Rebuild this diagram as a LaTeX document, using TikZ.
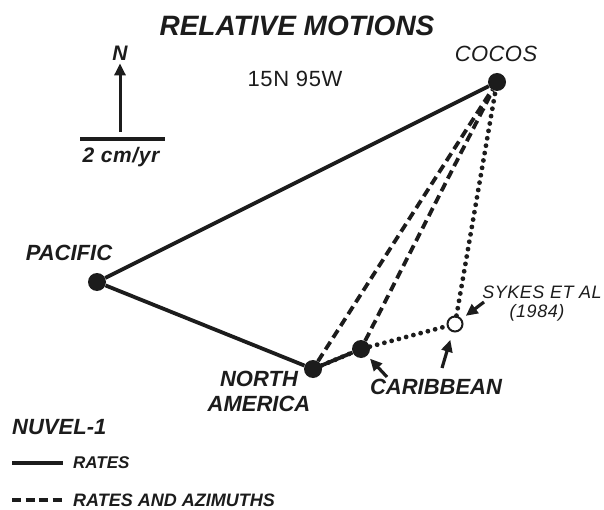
\documentclass[tikz,border=0pt]{standalone}
\usepackage{fontspec}
\setmainfont{Liberation Sans}
\usetikzlibrary{arrows.meta}
\definecolor{ink}{RGB}{28,28,28}
\tikzset{
  plate/.style={circle,fill=ink,inner sep=0pt,minimum size=18pt},
  sykesdot/.style={circle,draw=ink,fill=white,line width=2pt,inner sep=0pt,minimum size=15pt},
  lab/.style={font=\fontsize{22}{25}\selectfont\bfseries\itshape,text=ink,inner sep=0pt,align=center},
  slab/.style={font=\fontsize{18}{21}\selectfont\itshape\addfontfeature{LetterSpace=3},text=ink,inner sep=0pt,align=center},
  leg/.style={font=\fontsize{17}{20}\selectfont\bfseries\itshape,text=ink,inner sep=0pt,anchor=west},
  rate/.style={line width=3.8pt,ink},
  azim/.style={line width=3.8pt,ink,dash pattern=on 9pt off 5pt},
  dots/.style={line width=4.8pt,ink,line cap=round,dash pattern=on 0pt off 7.5pt},
  ptr/.style={-{Triangle[length=12pt,width=11pt]},line width=3.2pt,ink},
}

\begin{document}
\begin{tikzpicture}[x=1pt,y=-1pt]
\useasboundingbox (0,0) rectangle (604,510);
% plates (pole 15N 95W)
\node[plate] (cocos) at (497,82) {};
\node[plate] (pacific) at (97,282) {};
\node[plate] (namer) at (313,369) {};
\node[plate] (carib) at (361,349) {};
\node[sykesdot] (sykes) at (455,324) {};
% NUVEL-1 rates
\draw[rate] (pacific) -- (cocos);
\draw[rate] (pacific) -- (namer);
\draw[rate] (namer) -- (carib);
% rates and azimuths
\draw[azim] (namer) -- (cocos);
\draw[azim] (carib) -- (cocos);
% Sykes et al
\draw[dots] (namer) -- (carib);
\draw[dots] (carib) -- (sykes);
\draw[dots] (sykes) -- (cocos);
% labels
\node[lab,font=\fontsize{28}{30}\selectfont\bfseries\itshape] (title) at (297,26) {RELATIVE MOTIONS};
\node[lab,font=\fontsize{22}{24}\selectfont\addfontfeature{LetterSpace=3}] (pole) at (295,79) {15N 95W};
\node[lab,font=\fontsize{22}{25}\selectfont\itshape\addfontfeature{LetterSpace=2}] (cocoslab) at (496,54) {COCOS};
\node[lab] (paclab) at (69,253) {PACIFIC};
\node[lab] (namlab) at (259,391) {NORTH\\AMERICA};
\node[lab] (carlab) at (436,387) {CARIBBEAN};
\node[slab] (sykeslab) at (542,292) {SYKES ET AL};
\node[slab] (yearlab) at (537,313) {(1984)};
% pointers
\coordinate (cartail) at (387,377);
\coordinate (skytail) at (484,302);
\coordinate (skbtail) at (442,368);
\draw[ptr,shorten >=4pt] (cartail) -- (carib);
\draw[ptr,shorten >=5pt] (skytail) -- (sykes);
\draw[ptr,shorten >=8pt] (skbtail) -- (sykes);
% north arrow and scale
\node[lab,font=\fontsize{21}{22}\selectfont\bfseries\itshape] (nlab) at (120,53) {N};
\coordinate (ntail) at (120,132);
\draw[ptr,line width=3pt,shorten >=3pt] (ntail) -- (nlab.south);
\coordinate (sca) at (80,139);
\coordinate (scb) at (165,139);
\draw[rate,line width=4.2pt] (sca) -- (scb);
\node[lab,font=\fontsize{21}{22}\selectfont\bfseries\itshape\addfontfeature{LetterSpace=3}] (scalelab) at (121,157) {2 cm/yr};
% legend
\node[lab,anchor=west] (nuvel) at (12,427) {NUVEL-1};
\coordinate (la) at (12,463);
\coordinate (lb) at (63,463);
\coordinate (lc) at (12,500);
\coordinate (ld) at (62,500);
\draw[rate] (la) -- (lb);
\draw[azim,dash pattern=on 9pt off 4.5pt] (lc) -- (ld);
\node[leg] (ratelab) at (73,463) {RATES};
\node[leg,font=\fontsize{18}{20}\selectfont\bfseries\itshape] (azlab) at (73,500) {RATES AND AZIMUTHS};
\end{tikzpicture}
\end{document}
